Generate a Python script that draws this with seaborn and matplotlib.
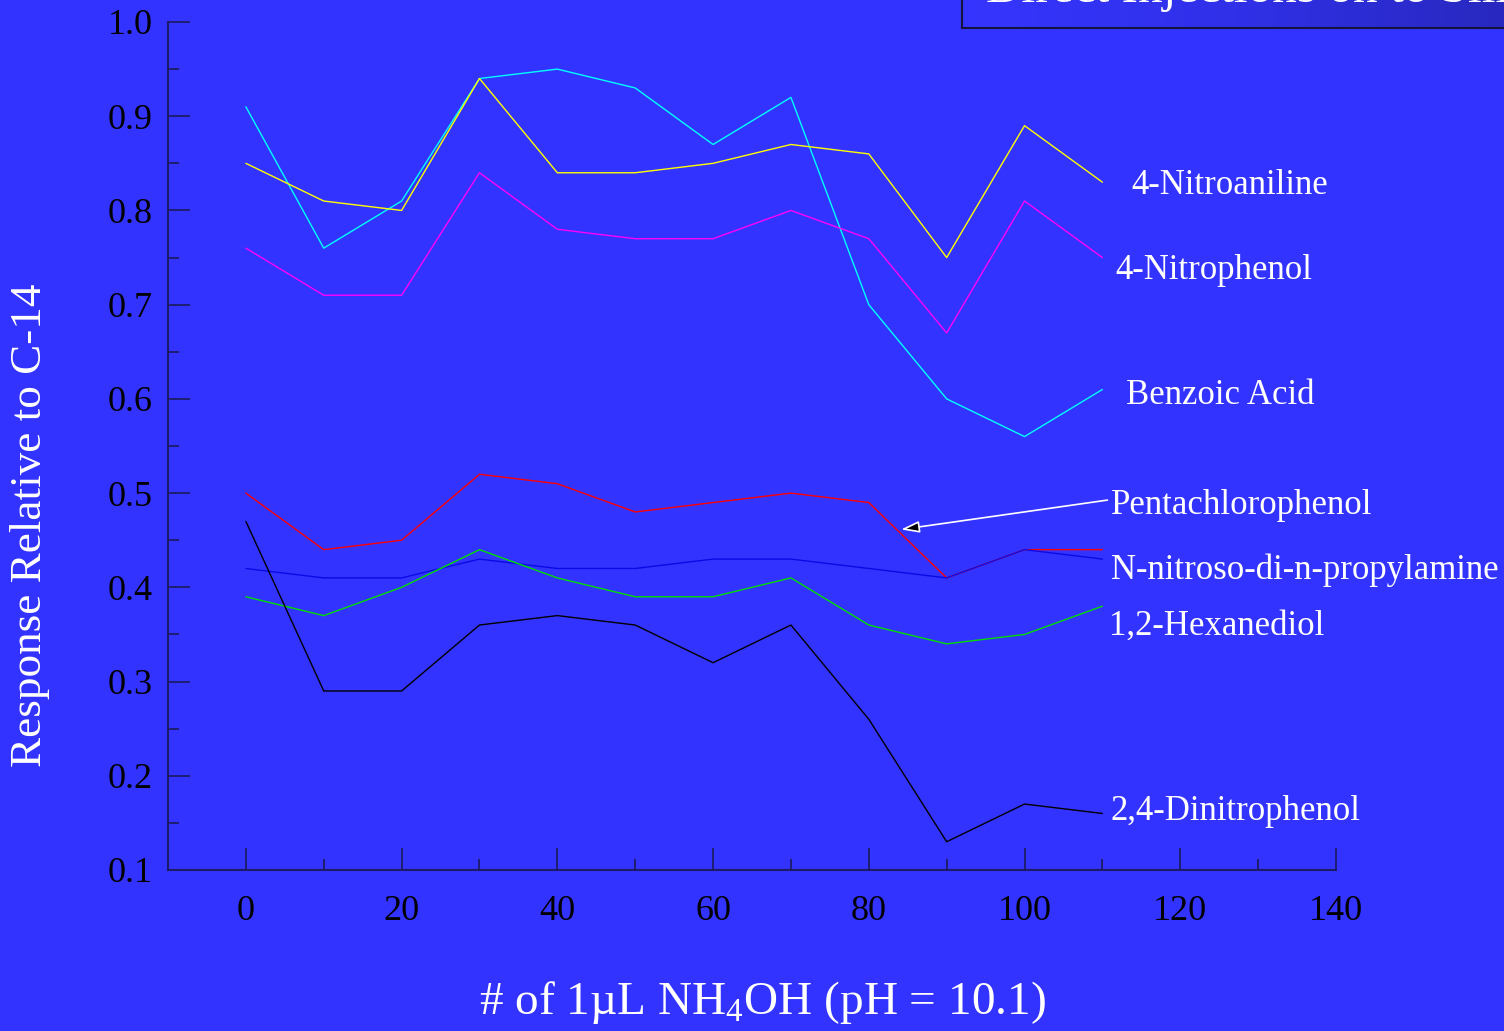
import numpy as np
import pandas as pd
import matplotlib
matplotlib.use("Agg")
import matplotlib.pyplot as plt
import seaborn as sns
from matplotlib.colors import LinearSegmentedColormap

# ---- data ----
injections = [0, 10, 20, 30, 40, 50, 60, 70, 80, 90, 100, 110]
benzoic_acid = [0.91, 0.76, 0.81, 0.94, 0.95, 0.93, 0.87, 0.92, 0.70, 0.60, 0.56, 0.61]
nitroaniline = [0.85, 0.81, 0.80, 0.94, 0.84, 0.84, 0.85, 0.87, 0.86, 0.75, 0.89, 0.83]
nitrophenol = [0.76, 0.71, 0.71, 0.84, 0.78, 0.77, 0.77, 0.80, 0.77, 0.67, 0.81, 0.75]
pentachlorophenol = [0.50, 0.44, 0.45, 0.52, 0.51, 0.48, 0.49, 0.50, 0.49, 0.41, 0.44, 0.44]
nitrosamine = [0.42, 0.41, 0.41, 0.43, 0.42, 0.42, 0.43, 0.43, 0.42, 0.41, 0.44, 0.43]
hexanediol = [0.39, 0.37, 0.40, 0.44, 0.41, 0.39, 0.39, 0.41, 0.36, 0.34, 0.35, 0.38]
dinitrophenol = [0.47, 0.29, 0.29, 0.36, 0.37, 0.36, 0.32, 0.36, 0.26, 0.13, 0.17, 0.16]

series_names = ["Benzoic Acid", "4-Nitroaniline", "4-Nitrophenol", "Pentachlorophenol",
                "N-nitroso-di-n-propylamine", "1,2-Hexanediol", "2,4-Dinitrophenol"]
series_values = [benzoic_acid, nitroaniline, nitrophenol, pentachlorophenol,
                 nitrosamine, hexanediol, dinitrophenol]
series_colors = ["#00FFFF", "#FFFF00", "#FF00FF", "#FF0000", "#0A0AE6", "#00DD00", "#000000"]

x_ticks = [0, 20, 40, 60, 80, 100, 120, 140]
y_ticks = [0.1, 0.2, 0.3, 0.4, 0.5, 0.6, 0.7, 0.8, 0.9, 1.0]
y_tick_labels = ["0.1", "0.2", "0.3", "0.4", "0.5", "0.6", "0.7", "0.8", "0.9", "1.0"]

title_text = "Direct Injections on to Silica"
x_label = r"# of 1µL NH$_\mathregular{4}$OH (pH = 10.1)"
y_label = "Response Relative to C-14"

# ---- build frame ----
rows = []
for name, vals in zip(series_names, series_values):
    for xv, yv in zip(injections, vals):
        rows.append({"x": xv, "y": yv, "series": name})
df = pd.DataFrame(rows)

BG = "#3333FF"
SPINE = "#1c1c66"

sns.set_style("ticks")
plt.rcParams["font.family"] = ["Liberation Serif", "DejaVu Serif"]
plt.rcParams["mathtext.fontset"] = "custom"
plt.rcParams["mathtext.rm"] = "Liberation Serif"

fig = plt.figure(figsize=(15.04, 10.31), dpi=100, facecolor=BG)
W, H = 1504, 1031
ax = fig.add_axes([168 / W, 1 - 870 / H, (1336 - 168) / W, (870 - 22) / H])
ax.set_facecolor(BG)

sns.lineplot(data=df, x="x", y="y", hue="series", hue_order=series_names,
             palette=dict(zip(series_names, series_colors)), linewidth=1.0,
             legend=False, ax=ax, sort=False)

ax.set_xlim(-10, 140)
ax.set_ylim(0.1, 1.0)
ax.set_xticks(x_ticks)
ax.set_xticks(np.arange(-10, 141, 10), minor=True)
ax.set_yticks(y_ticks)
ax.set_yticklabels(y_tick_labels)
ax.set_yticks(np.arange(0.15, 1.0, 0.1), minor=True)

for side in ["top", "right"]:
    ax.spines[side].set_visible(False)
for side in ["left", "bottom"]:
    ax.spines[side].set_color(SPINE)
    ax.spines[side].set_linewidth(1.5)

ax.tick_params(axis="both", which="major", direction="in", length=16, width=1.3,
               color=SPINE, labelsize=26, labelcolor="black")
ax.tick_params(axis="both", which="minor", direction="in", length=8, width=1.3, color=SPINE)
ax.tick_params(axis="x", which="major", pad=18)
ax.tick_params(axis="y", which="major", pad=11)

ax.set_xlabel(x_label, fontsize=34, color="white")
ax.set_ylabel(y_label, fontsize=32.5, color="white")
ax.xaxis.set_label_coords(0.509, -(1003 - 870) / 848)
ax.xaxis.label.set_va("center")
ax.yaxis.set_label_coords((30 - 168) / 1168, 1 - (525 - 22) / 848)
ax.yaxis.label.set_va("center")

# ---- series labels ----
label_pos = {
    "4-Nitroaniline": (113.7, 0.826),
    "4-Nitrophenol": (111.7, 0.736),
    "Benzoic Acid": (113.0, 0.604),
    "Pentachlorophenol": (111.1, 0.487),
    "N-nitroso-di-n-propylamine": (111.1, 0.418),
    "1,2-Hexanediol": (110.9, 0.359),
    "2,4-Dinitrophenol": (111.1, 0.162),
}
for name, (lx, ly) in label_pos.items():
    ax.text(lx, ly, name, fontsize=25, color="white", ha="left", va="center",
            clip_on=False)

ax.annotate("", xy=(83.8, 0.461), xytext=(111.0, 0.493),
            arrowprops=dict(arrowstyle="-|>,head_length=1.1,head_width=0.35",
                            color="white", fc="black", lw=1.2),
            annotation_clip=False)

# ---- title box (cut off at top) ----
tax = fig.add_axes([962 / W, 1 - 28 / H, (W - 962 + 10) / W, 40 / H])
grad = np.linspace(0, 1, 256).reshape(1, -1)
cmap = LinearSegmentedColormap.from_list("g", ["#3535FF", "#3030E8", "#2828BE"])
tax.imshow(grad, aspect="auto", cmap=cmap, extent=[0, 1, 0, 1])
tax.set_xlim(0, 1)
tax.set_ylim(0, 1)
tax.set_xticks([])
tax.set_yticks([])
for s in tax.spines.values():
    s.set_color("#14143c")
    s.set_linewidth(1.5)
tax.text(0.044, 0.66, title_text, fontsize=35.5, color="white", ha="left",
         va="baseline", transform=tax.transAxes, clip_on=True)

fig.savefig("out.png", dpi=100, facecolor=BG)
